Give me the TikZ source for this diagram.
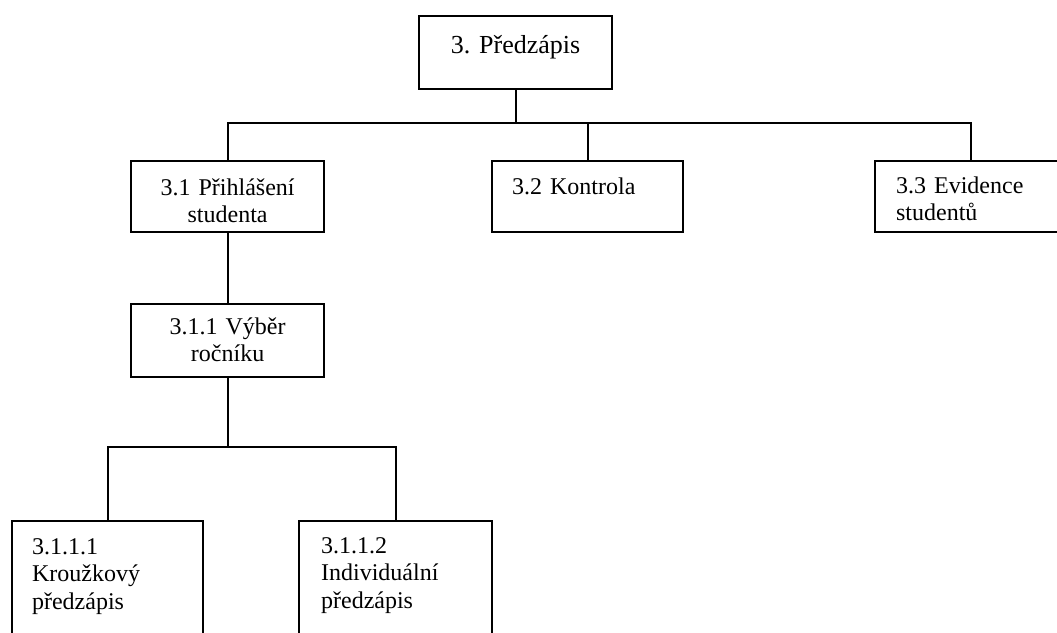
\documentclass[tikz,border=0pt]{standalone}
\usepackage{fontspec}
\setmainfont{Liberation Serif}
\frenchspacing
\begin{document}
\begin{tikzpicture}[x=1pt,y=-1pt,
  every node/.style={font=\fontsize{24}{27.5}\selectfont},
  box/.style={draw, line width=2.2pt, inner ysep=0pt, anchor=north west},
  cbox/.style={box, inner xsep=0pt, align=center},
  lbox/.style={box, align=left},
  link/.style={line width=2.2pt}]
\useasboundingbox (0,0) rectangle (1057,632);
\clip (0,0) rectangle (1057,632);

% top level
\node[cbox, font=\fontsize{26}{29}\selectfont, text width=193pt,
      text height=37pt, text depth=36pt] (top) at (418,15) {3. Předzápis};

% second level
\node[cbox, text width=193pt, text height=34pt, text depth=37pt]
  (b31) at (130,160) {3.1 Přihlášení\\studenta};
\node[lbox, inner xsep=20pt, text width=151pt, text height=33pt, text depth=38pt]
  (b32) at (491,160) {3.2 Kontrola};
\node[lbox, inner xsep=21pt, text width=150pt, text height=32pt, text depth=39pt]
  (b33) at (874,160) {3.3 Evidence\\studentů};

% third level
\node[cbox, text width=193pt, text height=30pt, text depth=43pt]
  (b311) at (130,303) {3.1.1 Výběr\\ročníku};

% fourth level
\node[lbox, inner xsep=20pt, text width=151pt, text height=33pt, text depth=107pt]
  (b3111) at (11,520) {3.1.1.1\\Kroužkový\\předzápis};
\node[lbox, inner xsep=22pt, text width=149pt, text height=32pt, text depth=108pt]
  (b3112) at (298,520) {3.1.1.2\\Individuální\\předzápis};

% connectors
\coordinate (bus1) at (0,123);
\coordinate (bus2) at (0,447);
\draw[link] (top.south) -- (top.south |- bus1);
\draw[link] (b31.north) -- (b31.north |- bus1) -- (b33.north |- bus1) -- (b33.north);
\draw[link] (b32.north) -- (b32.north |- bus1);
\draw[link] (b31.south) -- (b311.north);
\draw[link] (b311.south) -- (b311.south |- bus2);
\draw[link] (b3111.north) -- (b3111.north |- bus2) -- (b3112.north |- bus2) -- (b3112.north);
\end{tikzpicture}
\end{document}
